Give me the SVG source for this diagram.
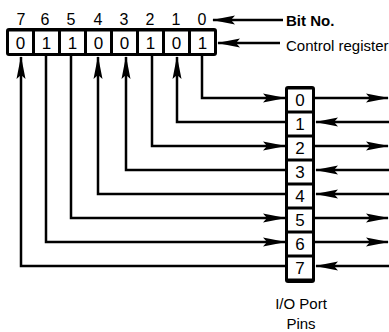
<svg xmlns="http://www.w3.org/2000/svg" width="389" height="332" viewBox="0 0 389 332">
<style>
.t{font-family:"Liberation Sans",Arial,sans-serif;fill:#000}
.num{font-size:16px;text-anchor:middle}
.dig{font-size:17px;text-anchor:middle}
.lbl{font-size:15px}
.frame{fill:#000}
.cell{fill:#fff}
.ln{fill:none;stroke:#000;stroke-width:2.5;stroke-linejoin:miter}
.ar{marker-end:url(#ah)}
</style>
<defs>
<marker id="ah" markerUnits="userSpaceOnUse" markerWidth="24" markerHeight="10" viewBox="0 0 24 10" refX="22" refY="5" orient="auto">
<path d="M0,0.5 L23,5 L0,9.5 L4,5 Z" fill="#000"/>
</marker>
</defs>
<rect width="389" height="332" fill="#fff"/>

<g id="bit-numbers">
<text class="t num" x="21" y="25">7</text>
<text class="t num" x="45" y="25">6</text>
<text class="t num" x="71" y="25">5</text>
<text class="t num" x="98" y="25">4</text>
<text class="t num" x="124" y="25">3</text>
<text class="t num" x="150" y="25">2</text>
<text class="t num" x="176" y="25">1</text>
<text class="t num" x="202" y="25">0</text>
</g>

<g id="control-register">
<rect class="frame" x="6" y="28" width="211" height="28" rx="3"/>
<rect class="cell" x="9" y="31.5" width="23" height="21.5"/>
<rect class="cell" x="35" y="31.5" width="23" height="21.5"/>
<rect class="cell" x="61" y="31.5" width="23" height="21.5"/>
<rect class="cell" x="87" y="31.5" width="23" height="21.5"/>
<rect class="cell" x="113" y="31.5" width="23" height="21.5"/>
<rect class="cell" x="139" y="31.5" width="23" height="21.5"/>
<rect class="cell" x="165" y="31.5" width="23" height="21.5"/>
<rect class="cell" x="191" y="31.5" width="23" height="21.5"/>
<text class="t dig" x="20.5" y="48.5">0</text>
<text class="t dig" x="46.5" y="48.5">1</text>
<text class="t dig" x="72.5" y="48.5">1</text>
<text class="t dig" x="98.5" y="48.5">0</text>
<text class="t dig" x="124.5" y="48.5">0</text>
<text class="t dig" x="150.5" y="48.5">1</text>
<text class="t dig" x="176.5" y="48.5">0</text>
<text class="t dig" x="202.5" y="48.5">1</text>
</g>

<g id="io-port">
<rect class="frame" x="285" y="86" width="30" height="197" rx="3"/>
<rect class="cell" x="288" y="89.5" width="24" height="21"/>
<rect class="cell" x="288" y="113.5" width="24" height="21"/>
<rect class="cell" x="288" y="137.5" width="24" height="21"/>
<rect class="cell" x="288" y="161.5" width="24" height="21"/>
<rect class="cell" x="288" y="185.5" width="24" height="21"/>
<rect class="cell" x="288" y="209.5" width="24" height="21"/>
<rect class="cell" x="288" y="233.5" width="24" height="21"/>
<rect class="cell" x="288" y="257.5" width="24" height="21"/>
<text class="t dig" x="300" y="106">0</text>
<text class="t dig" x="300" y="130">1</text>
<text class="t dig" x="300" y="154">2</text>
<text class="t dig" x="300" y="178">3</text>
<text class="t dig" x="300" y="202">4</text>
<text class="t dig" x="300" y="226">5</text>
<text class="t dig" x="300" y="250">6</text>
<text class="t dig" x="300" y="274">7</text>
</g>

<g id="labels">
<text class="t lbl" x="286" y="26" font-weight="bold" font-size="16">Bit No.</text>
<text class="t lbl" x="286" y="51">Control register</text>
<text class="t lbl" x="301" y="309" text-anchor="middle" font-size="16">I/O Port</text>
<text class="t lbl" x="301" y="329" text-anchor="middle" font-size="16">Pins</text>
</g>

<g id="connectors">
<path class="ln ar" d="M283,20 H213"/>
<path class="ln ar" d="M280,43 H218"/>
<!-- bit 0 output -->
<path class="ln ar" d="M202,56 V98 H285"/>
<path class="ln ar" d="M315,98 H388"/>
<!-- bit 1 input -->
<path class="ln ar" d="M285,122 H177 V57"/>
<path class="ln ar" d="M389,122 H316"/>
<!-- bit 2 output -->
<path class="ln ar" d="M152,56 V146 H285"/>
<path class="ln ar" d="M315,146 H388"/>
<!-- bit 3 input -->
<path class="ln ar" d="M285,170 H126 V57"/>
<path class="ln ar" d="M389,170 H316"/>
<!-- bit 4 input -->
<path class="ln ar" d="M285,194 H98 V57"/>
<path class="ln ar" d="M389,194 H316"/>
<!-- bit 5 output -->
<path class="ln ar" d="M71,56 V218 H285"/>
<path class="ln ar" d="M315,218 H388"/>
<!-- bit 6 output -->
<path class="ln ar" d="M46,56 V242 H285"/>
<path class="ln ar" d="M315,242 H388"/>
<!-- bit 7 input -->
<path class="ln ar" d="M285,266 H21 V57"/>
<path class="ln ar" d="M389,266 H316"/>
</g>
</svg>
